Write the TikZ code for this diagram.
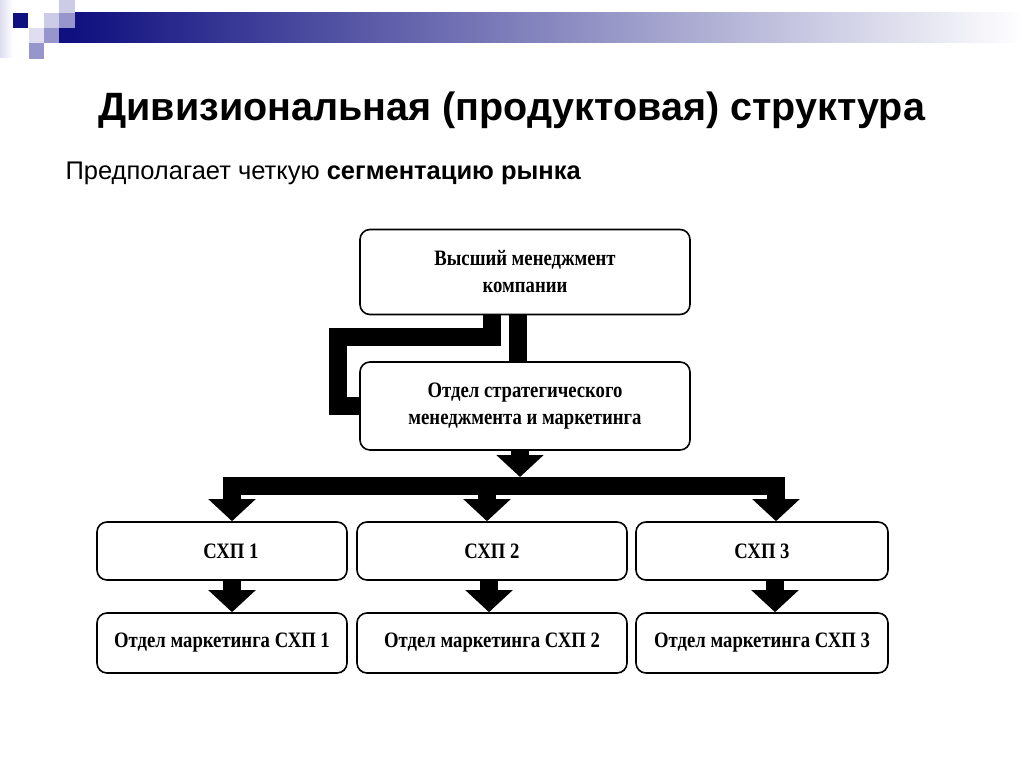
\documentclass[tikz,border=0pt]{standalone}
\usepackage{fontspec}
\setmainfont{Liberation Sans}
\newfontfamily\boxfont[FakeStretch=0.85]{Liberation Serif}
\usetikzlibrary{arrows.meta}
\definecolor{navy}{RGB}{16,16,128}
\definecolor{lav}{RGB}{204,204,230}
\definecolor{midlav}{RGB}{150,150,204}
\definecolor{palelav}{RGB}{222,222,240}

\begin{document}
\begin{tikzpicture}[x=1pt,y=-1pt,
    box_node/.style={draw,rounded corners=10pt,line width=1.6pt,inner sep=0pt,align=center,
        font=\boxfont\bfseries\fontsize{22}{27}\selectfont},
    fat_line/.style={line width=18pt},
    fat_arrow/.style={line width=18pt,-{Triangle[width=46pt,length=22pt]}}]
    \useasboundingbox (0,0) rectangle (1024,767);

    % header bar
    \shade[left color=navy,right color=white] (75,13) rectangle (1024,43);
    \shade[left color=palelav,right color=white] (0,0) rectangle (13,58);
    \fill[navy] (59,28) rectangle (75,43);
    \fill[navy] (13,13) rectangle (28,28);
    \fill[lav] (44,13) rectangle (59,28);
    \fill[lav] (59,0) rectangle (75,13);
    \fill[midlav] (59,13) rectangle (75,28);
    \fill[midlav] (44,28) rectangle (59,43);
    \fill[palelav] (29,28) rectangle (44,43);
    \fill[midlav] (29,43) rectangle (44,59);

    \node[anchor=base west,font=\bfseries\fontsize{39.5}{44}\selectfont] (title) at (95,121)
        {Дивизиональная (продуктовая) структура};
    \node[anchor=base west,font=\fontsize{25.5}{30}\selectfont] (sub) at (62,180)
        {Предполагает четкую \textbf{сегментацию рынка}};

    \node[box_node,minimum width=330pt,minimum height=85pt] (top) at (525,272)
        {Высший менеджмент\\компании};
    \node[box_node,minimum width=330pt,minimum height=88pt] (strat) at (525,406)
        {Отдел стратегического\\менеджмента и маркетинга};

    \node[box_node,minimum width=250pt,minimum height=58pt] (sxp1) at (222,551) {\hspace*{18pt}СХП 1};
    \node[box_node,minimum width=270pt,minimum height=58pt] (sxp2) at (492,551) {СХП 2};
    \node[box_node,minimum width=252pt,minimum height=58pt] (sxp3) at (762,551) {СХП 3};

    \node[box_node,minimum width=250pt,minimum height=60pt] (mkt1) at (222,643) {Отдел маркетинга СХП 1};
    \node[box_node,minimum width=270pt,minimum height=60pt] (mkt2) at (492,643) {Отдел маркетинга СХП 2};
    \node[box_node,minimum width=252pt,minimum height=60pt] (mkt3) at (762,643) {Отдел маркетинга СХП 3};

    \coordinate (bend) at (338,337);
    \coordinate (hub) at (520,486);

\draw[fat_line] ([xshift=-7pt]top.south) -- ([xshift=-7pt]strat.north);
\draw[fat_line] ([xshift=-33pt]top.south) |- (bend) |- (strat.west);
\draw[fat_arrow] ([xshift=-5pt]strat.south) -- ([yshift=9pt]hub);
\draw[fat_arrow] (hub) -| ([xshift=10pt]sxp1.north);
\draw[fat_arrow] (hub) -| ([xshift=-5pt]sxp2.north);
\draw[fat_arrow] (hub) -| ([xshift=14pt]sxp3.north);
\draw[fat_arrow] ([xshift=10pt]sxp1.south) -- ([xshift=10pt]mkt1.north);
\draw[fat_arrow] ([xshift=-3pt]sxp2.south) -- ([xshift=-3pt]mkt2.north);
\draw[fat_arrow] ([xshift=13pt]sxp3.south) -- ([xshift=13pt]mkt3.north);

\end{tikzpicture}
\end{document}
